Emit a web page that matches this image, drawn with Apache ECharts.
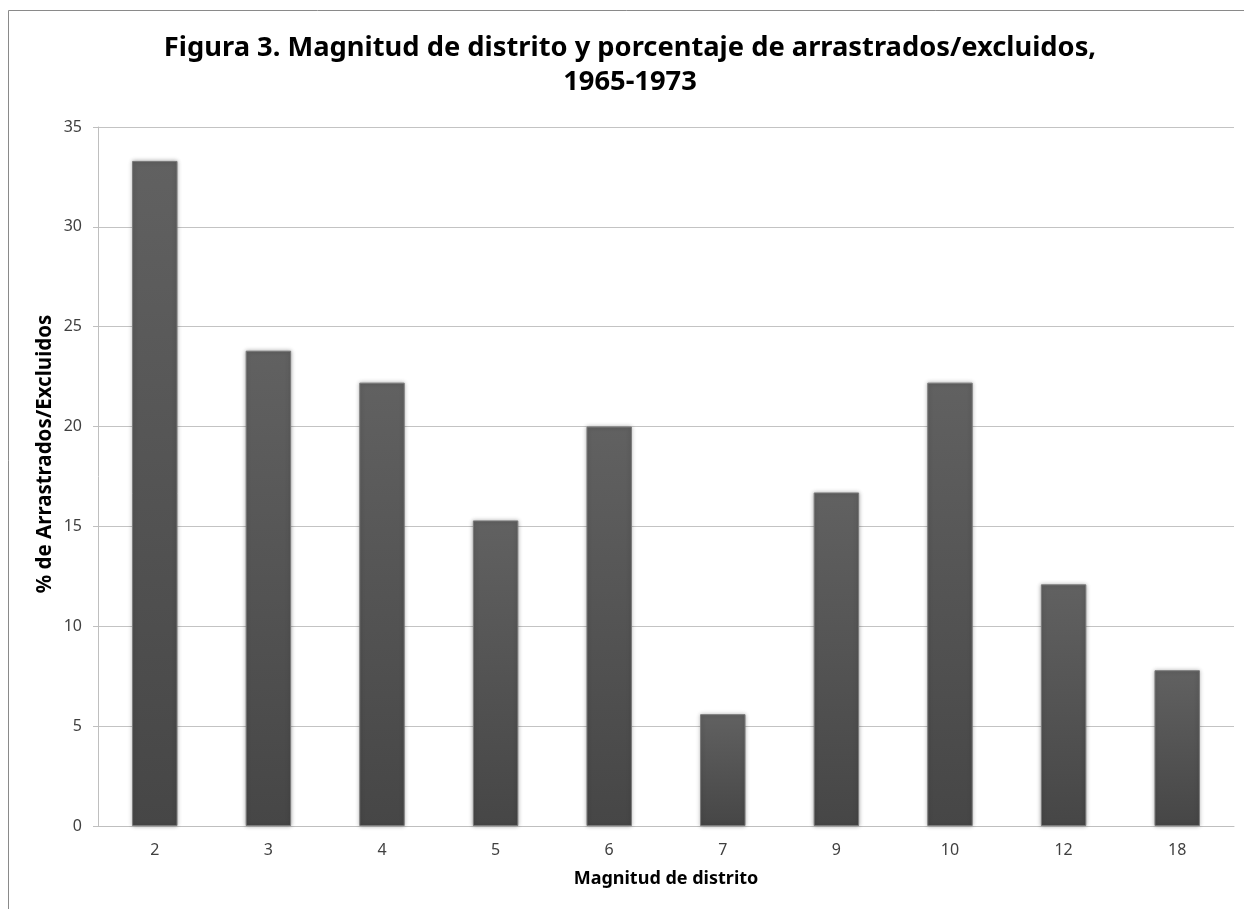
<!DOCTYPE html>
<html>
<head>
<meta charset="utf-8">
<script src="https://cdn.jsdelivr.net/npm/echarts@6/dist/echarts.min.js"></script>
<style>
  html, body { margin: 0; padding: 0; background: #ffffff; }
  #chart { width: 1244px; height: 909px; }
</style>
</head>
<body>
<div id="chart"></div>
<script>
// District magnitude (categories) and share of dragged/excluded (%)
const magnitudes = ['2', '3', '4', '5', '6', '7', '9', '10', '12', '18'];
const percentages = [33.3, 23.8, 22.2, 15.3, 20.0, 5.6, 16.7, 22.2, 12.1, 7.8];
const yTicks = { min: 0, max: 35, step: 5 };

const titleText = 'Figura 3. Magnitud de distrito y porcentaje de arrastrados/excluidos,\n1965-1973';
const xTitle = 'Magnitud de distrito';
const yTitle = '% de Arrastrados/Excluidos';

const chart = echarts.init(document.getElementById('chart'), null, { renderer: 'canvas' });

const fontFamily = '"Noto Sans", "Open Sans", sans-serif';

chart.setOption({
  backgroundColor: '#ffffff',
  animation: false,
  title: {
    text: titleText,
    left: 625,
    textAlign: 'center',
    top: 26,
    textStyle: {
      fontFamily: fontFamily,
      fontSize: 27.3,
      fontWeight: 'bold',
      color: '#000000',
      lineHeight: 34
    }
  },
  graphic: [
    {
      type: 'rect',
      silent: true,
      shape: { x: 8.5, y: 10.5, width: 1300, height: 1000 },
      style: { fill: 'none', stroke: '#8a8a8a', lineWidth: 1 }
    },
    {
      type: 'text',
      silent: true,
      x: 45,
      y: 454,
      rotation: Math.PI / 2,
      style: {
        text: yTitle,
        fontFamily: fontFamily,
        fontSize: 20.5,
        fontWeight: 'bold',
        fill: '#000000',
        align: 'center',
        verticalAlign: 'middle'
      }
    }
  ],
  grid: {
    left: 98,
    right: 10,
    top: 127,
    bottom: 83,
    containLabel: false
  },
  xAxis: {
    type: 'category',
    data: magnitudes,
    name: xTitle,
    nameLocation: 'middle',
    nameGap: 44,
    nameTextStyle: {
      fontFamily: fontFamily,
      fontSize: 18,
      fontWeight: 'bold',
      color: '#000000'
    },
    axisLine: { show: true, lineStyle: { color: '#bfbfbf', width: 1 } },
    axisTick: { show: false },
    axisLabel: {
      margin: 16,
      fontFamily: fontFamily,
      fontSize: 16,
      color: '#404040'
    }
  },
  yAxis: {
    type: 'value',
    min: yTicks.min,
    max: yTicks.max,
    interval: yTicks.step,
    axisLine: { show: true, lineStyle: { color: '#bfbfbf', width: 1 } },
    axisTick: { show: true, length: 5, lineStyle: { color: '#bfbfbf' } },
    splitLine: { show: true, lineStyle: { color: '#c3c3c3', width: 1 } },
    axisLabel: {
      margin: 16,
      fontFamily: fontFamily,
      fontSize: 16,
      color: '#404040'
    }
  },
  series: [
    {
      type: 'bar',
      data: percentages,
      barWidth: '40%',
      itemStyle: {
        color: new echarts.graphic.LinearGradient(0, 0, 0, 1, [
          { offset: 0, color: '#616161' },
          { offset: 1, color: '#464646' }
        ]),
        borderColor: '#7a7a7a',
        borderWidth: 1,
        shadowColor: 'rgba(0,0,0,0.3)',
        shadowBlur: 4
      }
    }
  ]
});
</script>
</body>
</html>
